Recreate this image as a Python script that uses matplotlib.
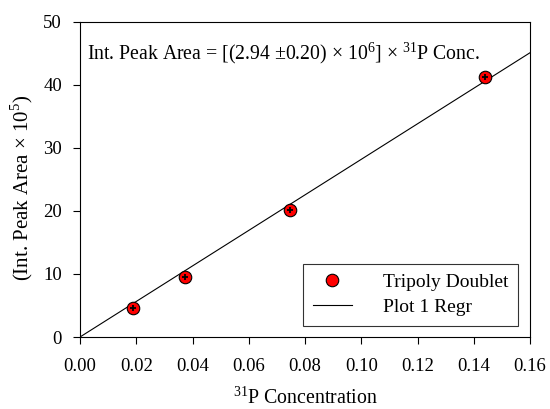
import matplotlib.pyplot as plt
import numpy as np

plt.rcParams['font.family'] = ['Liberation Serif', 'DejaVu Serif']
plt.rcParams['mathtext.fontset'] = 'custom'
plt.rcParams['mathtext.rm'] = 'Liberation Serif'

conc = [0.019, 0.0375, 0.0745, 0.144]
area = [4.6, 9.6, 20.1, 41.3]
slope = 282.0  # fitted line, in plot units
line_x = np.array([0.0, 0.16])

fig = plt.figure(figsize=(5.5, 4.09), dpi=100)
ax = fig.add_axes([80 / 550, 1 - 337 / 409, 450 / 550, 315 / 409])

ax.plot(line_x, slope * line_x, color='black', lw=0.8, label='Plot 1 Regr', zorder=2)
ax.plot(conc, area, 'o', ms=9, mfc='red', mec='black', mew=0.8, ls='none',
        label='Tripoly Doublet', zorder=3)
ax.plot(conc, area, '+', ms=4.5, color='black', mew=1.3, ls='none', zorder=4)

ax.set_xlim(0, 0.16)
ax.set_ylim(0, 50)
ax.set_xticks(np.arange(0, 0.161, 0.02))
ax.set_xticklabels([f'{v:.2f}' for v in np.arange(0, 0.161, 0.02)])
ax.set_yticks(range(0, 51, 10))
ax.tick_params(direction='out', length=5, width=0.8, labelsize=13.5)
ax.tick_params(axis='x', pad=10)
ax.tick_params(axis='y', pad=8)
for s in ax.spines.values():
    s.set_linewidth(0.8)

ax.set_xlabel(r'$^{31}$P Concentration', fontsize=14.3, labelpad=9)
ax.set_ylabel('(Int. Peak Area × 10$^{5}$)', fontsize=15)
ax.yaxis.set_label_coords(-0.10, 0.473)
ax.text(0.0025, 45.0, r'Int. Peak Area = [(2.94 $\pm$0.20) $\times$ 10$^{6}$] $\times$ $^{31}$P Conc.',
        fontsize=14.2, va='center', ha='left')

h, l = ax.get_legend_handles_labels()
leg = ax.legend(h[::-1], l[::-1], loc='lower right', bbox_to_anchor=(0.973, 0.035),
                fontsize=14, frameon=True, fancybox=False, edgecolor='black',
                handlelength=2.0, handletextpad=1.6, borderpad=0.5, labelspacing=0.4,
                borderaxespad=0)
leg.get_frame().set_linewidth(0.8)

fig.savefig('out.png', dpi=100)
